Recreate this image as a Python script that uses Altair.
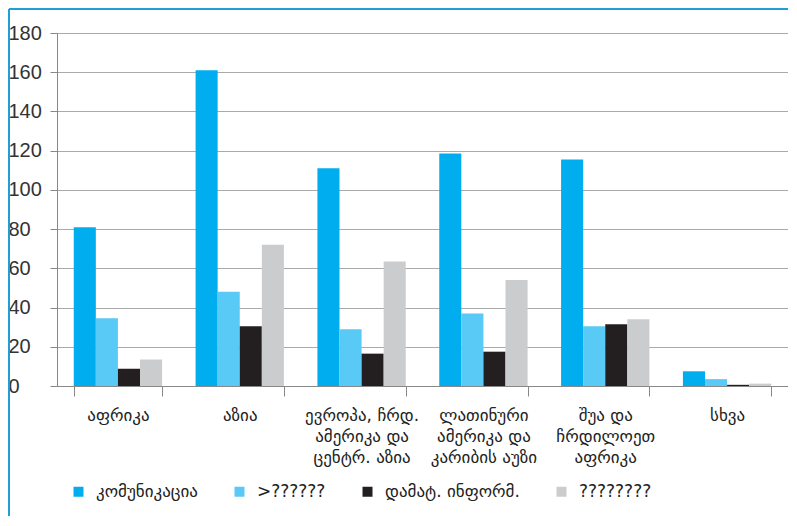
import altair as alt
import pandas as pd

regions = [
    "აფრიკა",
    "აზია",
    "ევროპა, ჩრდ.|ამერიკა და|ცენტრ. აზია",
    "ლათინური|ამერიკა და|კარიბის აუზი",
    "შუა და|ჩრდილოეთ|აფრიკა",
    "სხვა",
]
series = ["კომუნიკაცია", ">??????", "დამატ. ინფორმ.", "????????"]
colors = ["#00AEEF", "#58CAF5", "#231F20", "#CBCCCE"]

s1 = [81, 161, 111, 118.5, 115.5, 7.5]
s2 = [34.5, 48, 29, 37, 30.5, 3.5]
s3 = [8.8, 30.5, 16.5, 17.5, 31.5, 0.6]
s4 = [13.5, 72, 63.5, 54, 34, 1.2]
y_ticks = [0, 20, 40, 60, 80, 100, 120, 140, 160, 180]

rows = []
for vals, name in zip([s1, s2, s3, s4], series):
    for r, v in zip(regions, vals):
        rows.append({"region": r, "series": name, "value": v})
df = pd.DataFrame(rows)

W, H = 731, 353
georgian = "DejaVu Sans"

bars = alt.Chart(df).mark_bar().encode(
    x=alt.X("region:N", sort=regions,
            scale=alt.Scale(paddingInner=0.275, paddingOuter=0.1375),
            axis=alt.Axis(title=None, labelAngle=0, tickBand="extent",
                          labelExpr="split(datum.label, '|')",
                          labelFont=georgian, labelFontSize=17, labelColor="#222",
                          labelLineHeight=21, labelPadding=11, tickSize=10,
                          tickColor="#888", domainColor="#888", grid=False,
                          labelLimit=200)),
    xOffset=alt.XOffset("series:N", sort=series),
    y=alt.Y("value:Q", scale=alt.Scale(domain=[0, 180], nice=False),
            axis=alt.Axis(title=None, values=y_ticks, labelFont="Liberation Sans",
                          labelFontSize=20, labelColor="#333", labelAlign="left",
                          labelBaseline="middle", tickSize=7, labelPadding=42,
                          tickColor="#888", domainColor="#888",
                          gridColor="#aaa", gridWidth=1)),
    color=alt.Color("series:N", sort=series,
                    scale=alt.Scale(domain=series, range=colors),
                    legend=alt.Legend(title=None, orient="none", legendX=13, legendY=450,
                                      direction="horizontal", symbolType="square",
                                      symbolSize=100, symbolStrokeWidth=0,
                                      labelFont=georgian, labelFontSize=17,
                                      labelColor="#222", labelOffset=9,
                                      columnPadding=33, labelLimit=300)),
)

border_top = alt.Chart(pd.DataFrame({"a": [0]})).mark_rule(
    color="#1E9FD6", strokeWidth=2).encode(
    x=alt.value(-48), x2=alt.value(W + 60), y=alt.value(-24))
border_left = alt.Chart(pd.DataFrame({"a": [0]})).mark_rule(
    color="#1E9FD6", strokeWidth=2).encode(
    x=alt.value(-48), y=alt.value(-24), y2=alt.value(H + 200))

chart = alt.layer(bars, border_top, border_left).properties(
    width=W, height=H,
    autosize=alt.AutoSizeParams(type="none"),
    padding={"left": 49, "top": 25, "right": 0, "bottom": 130},
).configure_view(stroke=None).configure(background="white")

chart.save("out.html", embed_options={"renderer": "svg", "actions": False})
